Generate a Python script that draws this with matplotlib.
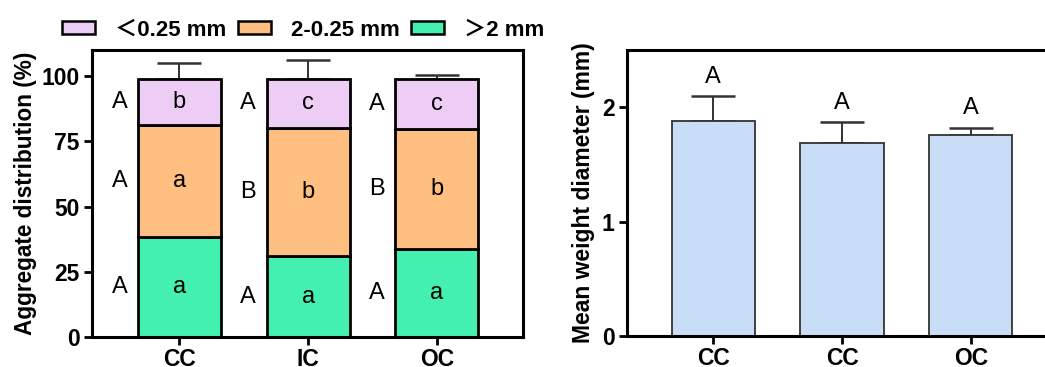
import matplotlib
matplotlib.use("Agg")
import matplotlib.pyplot as plt
from matplotlib.patches import Patch
import numpy as np

plt.rcParams['font.family'] = ['Liberation Sans', 'Noto Sans CJK SC', 'DejaVu Sans']

# aggregate fractions (%) and SD for each treatment
groups = ['CC', 'IC', 'OC']
large = [38.3, 30.9, 33.8]          # >2 mm
large_sd = [8.0, 5.4, 2.9]
medium = [42.9, 49.2, 46.1]         # 2-0.25 mm
medium_sd = [3.5, 2.7, 2.1]
small = [17.8, 18.9, 19.1]          # <0.25 mm
small_sd = [5.9, 7.2, 1.4]

large_in = ['a', 'a', 'a']
medium_in = ['a', 'b', 'b']
small_in = ['b', 'c', 'c']
large_out = ['A', 'A', 'A']
medium_out = ['A', 'B', 'B']
small_out = ['A', 'A', 'A']

# mean weight diameter
mwd_groups = ['CC', 'CC', 'OC']
mwd = [1.877, 1.689, 1.758]
mwd_sd = [0.22, 0.18, 0.064]
mwd_letters = ['A', 'A', 'A']

c_small = '#EDCDF6'
c_medium = '#FFBF80'
c_large = '#44F0B0'
c_mwd = '#C9DEF6'

fig = plt.figure(figsize=(10.45, 3.67), dpi=100)
ax1 = fig.add_axes([0.088, 0.0817, 0.4124, 0.782])
ax2 = fig.add_axes([0.600, 0.0845, 0.4115, 0.779])

x = np.arange(len(groups))
w = 0.645
bottoms = np.zeros(len(groups))
segments = [(large, large_sd, c_large, large_in, large_out),
            (medium, medium_sd, c_medium, medium_in, medium_out),
            (small, small_sd, c_small, small_in, small_out)]
for vals, sds, col, inner, outer in segments:
    vals = np.array(vals)
    ax1.bar(x, vals, w, bottom=bottoms, color=col, edgecolor='black',
            linewidth=2, zorder=2)
    tops = bottoms + vals
    ax1.errorbar(x, tops, yerr=[np.zeros(len(x)), sds], fmt='none',
                 ecolor='#333333', elinewidth=1.4, capsize=15.5,
                 capthick=1.8, zorder=1)
    mids = bottoms + vals / 2
    for i in range(len(x)):
        ax1.text(x[i], mids[i], inner[i], ha='center', va='center', fontsize=17)
        ax1.text(x[i] - 0.465, mids[i], outer[i], ha='center', va='center', fontsize=17)
    bottoms = tops

ax1.set_xlim(-0.68, 2.67)
ax1.set_ylim(0, 110)
ax1.set_yticks([0, 25, 50, 75, 100])
ax1.set_xticks(x)
ax1.set_xticklabels(groups)
ax1.set_ylabel('Aggregate distribution (%)', fontsize=16.3, fontweight='bold', labelpad=3)

ax2.bar(x, mwd, w, color=c_mwd, edgecolor='#333333', linewidth=1.3, zorder=2)
ax2.errorbar(x, mwd, yerr=[np.zeros(len(x)), mwd_sd], fmt='none',
             ecolor='#333333', elinewidth=1.4, capsize=15.5, capthick=1.8, zorder=1)
for i in range(len(x)):
    ax2.text(x[i], mwd[i] + mwd_sd[i] + 0.17, mwd_letters[i], ha='center',
             va='center', fontsize=17)
ax2.set_xlim(-0.67, 2.67)
ax2.set_ylim(0, 2.5)
ax2.set_yticks([0, 1, 2])
ax2.set_xticks(x)
ax2.set_xticklabels(mwd_groups)
ax2.set_ylabel('Mean weight diameter (mm)', fontsize=16.5, fontweight='bold', labelpad=5)

for ax in (ax1, ax2):
    for s in ax.spines.values():
        s.set_linewidth(2.2)
    ax.tick_params(axis='both', width=2, length=6, labelsize=16.5, pad=3)
    ax.tick_params(axis='x', pad=2)
    for lab in ax.get_xticklabels() + ax.get_yticklabels():
        lab.set_fontweight('bold')

handles = [Patch(facecolor=c_small, edgecolor='black', linewidth=1.8),
           Patch(facecolor=c_medium, edgecolor='black', linewidth=1.8),
           Patch(facecolor=c_large, edgecolor='black', linewidth=1.8)]
fig.legend(handles, ['＜0.25 mm', '2-0.25 mm', '＞2 mm'], ncol=3,
           loc='center', bbox_to_anchor=(0.29, 0.918), frameon=False,
           prop={'weight': 'bold', 'size': 16}, handlelength=1.5,
           handleheight=0.55, handletextpad=0.9, columnspacing=0.5)

fig.savefig('out.png', dpi=100)
